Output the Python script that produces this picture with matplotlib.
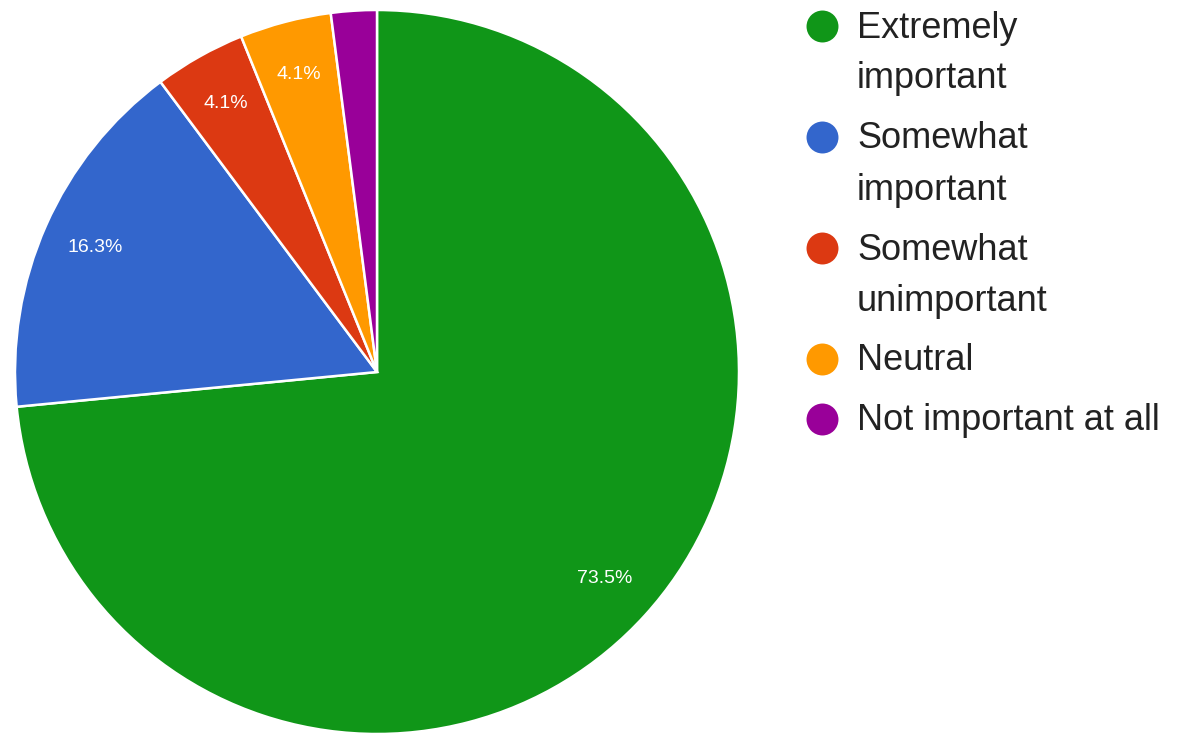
import matplotlib.pyplot as plt
from matplotlib.lines import Line2D

# survey answers (counts out of 49)
labels = ["Extremely\nimportant", "Somewhat\nimportant", "Somewhat\nunimportant",
          "Neutral", "Not important at all"]
counts = [36, 8, 2, 2, 1]
colors = ["#109618", "#3366CC", "#DC3912", "#FF9900", "#990099"]

W, H = 1193, 736
fig = plt.figure(figsize=(W / 100, H / 100), dpi=100)
plt.rcParams['font.family'] = ['Liberation Sans', 'DejaVu Sans']

# pie centred at (377, 372) px, radius ~362 px
cx, cy, r = 377, 372, 362
ax = fig.add_axes([(cx - r) / W, (H - cy - r) / H, 2 * r / W, 2 * r / H])


def pct(p):
    return "%.1f%%" % p if p >= 3 else ""


wedges, texts, autotexts = ax.pie(counts, colors=colors, startangle=90, counterclock=False,
                                  autopct=pct, pctdistance=0.85,
                                  wedgeprops=dict(edgecolor="white", linewidth=1.8),
                                  textprops=dict(color="white", fontsize=14))
ax.set_xlim(-1, 1)
ax.set_ylim(-1, 1)
ax.set_aspect("equal")
ax.axis("off")

# legend drawn by hand so the marker sits next to the first line
y = 26
for lab, col in zip(labels, colors):
    fig.add_artist(Line2D([822 / W], [1 - y / H], marker="o", markersize=23,
                          color=col, markeredgewidth=0, transform=fig.transFigure))
    for k, line in enumerate(lab.split("\n")):
        fig.text(857 / W, 1 - (y + 2 + k * 51) / H, line, fontsize=26,
                 color="#222222", va="center", ha="left")
    y += 51 * len(lab.split("\n")) + 9

fig.savefig("out.png", dpi=100, facecolor="white")
